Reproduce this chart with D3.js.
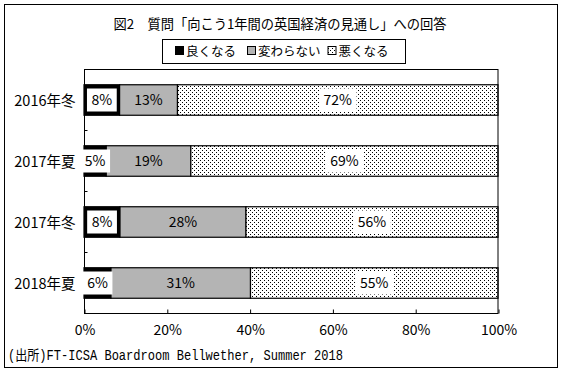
<!DOCTYPE html>
<html><head><meta charset="utf-8">
<script src="https://cdn.jsdelivr.net/npm/d3@7"></script>
<style>
html,body{margin:0;padding:0;background:#fff;}
svg{display:block;}
</style></head>
<body>
<svg id="c" width="563" height="372"></svg>
<script>
const categories = ["2016年冬","2017年夏","2017年冬","2018年夏"];
const good = [8,5,8,6];      // 良くなる
const same = [13,19,28,31];  // 変わらない
const bad  = [72,69,56,55];  // 悪くなる
const seriesNames = ["良くなる","変わらない","悪くなる"];
const xTicks = [0,0.2,0.4,0.6,0.8,1];
const titleText = "図2　質問「向こう1年間の英国経済の見通し」への回答";
const sourceText = "(出所)FT-ICSA Boardroom Bellwether, Summer 2018";

const FONT = "\"Noto Sans CJK JP\",\"Noto Sans\",sans-serif";
const svg = d3.select("#c").style("font-family", FONT);
const defs = svg.append("defs");
const pat = defs.append("pattern").attr("id","dots").attr("patternUnits","userSpaceOnUse")
  .attr("width",4).attr("height",4);
pat.append("rect").attr("width",4).attr("height",4).attr("fill","#fff");
pat.append("rect").attr("x",0).attr("y",0).attr("width",1).attr("height",1).attr("fill","#000");
pat.append("rect").attr("x",2).attr("y",2).attr("width",1).attr("height",1).attr("fill","#000");

const fills = ["#000","#b4b4b4","url(#dots)"];

// outer frame
svg.append("rect").attr("x",4.5).attr("y",4.5).attr("width",553).attr("height",363)
  .attr("fill","none").attr("stroke","#000").attr("stroke-width",1);

// title
svg.append("text").attr("x",280).attr("y",28.5).attr("text-anchor","middle")
  .attr("font-size",13.5).attr("textLength",333).attr("lengthAdjust","spacingAndGlyphs").text(titleText);

// legend
const lg = svg.append("g");
lg.append("rect").attr("x",162.5).attr("y",39.5).attr("width",243).attr("height",24)
  .attr("fill","#fff").attr("stroke","#000");
const legX = [175,247,327.5];
seriesNames.forEach((n,i)=>{
  lg.append("rect").attr("x",legX[i]+0.5).attr("y",46.5).attr("width",8).attr("height",8)
    .attr("fill",fills[i]).attr("stroke","#000");
  lg.append("text").attr("x",legX[i]+11).attr("y",56).attr("font-size",12.5).text(n);
});

const L=84, R=498, T=69, B=313;
const x = d3.scaleLinear().domain([0,1]).range([L,R]);
const y = d3.scaleBand().domain(categories).range([T,B]).paddingInner(0.5).paddingOuter(0.25);

const rows = categories.map((c,i)=>({cat:c, good:good[i], same:same[i], bad:bad[i]}));
const keys = ["good","same","bad"];
const stack = d3.stack().keys(keys).offset(d3.stackOffsetExpand)(rows);

// bars
stack.forEach((s,si)=>{
  svg.append("g").selectAll("rect").data(s).join("rect")
    .attr("x",d=>x(d[0])).attr("y",d=>y(d.data.cat)+0.5)
    .attr("width",d=>x(d[1])-x(d[0])).attr("height",y.bandwidth())
    .attr("fill",fills[si]).attr("stroke","#000").attr("stroke-width",1.2);
});

// plot frame
svg.append("rect").attr("x",L+0.5).attr("y",T+0.5).attr("width",R-L-0.5).attr("height",B-T)
  .attr("fill","none").attr("stroke","#000");

// y axis with ticks at category boundaries (inward)
const yAxis = svg.append("g").attr("transform",`translate(${L+0.5},0)`);
const bounds = d3.range(categories.length+1).map(i=>T + i*y.step());
yAxis.selectAll("line").data(bounds).join("line")
  .attr("x1",0).attr("x2",3).attr("y1",d=>Math.round(d)+0.5).attr("y2",d=>Math.round(d)+0.5).attr("stroke","#000");
yAxis.selectAll("text").data(categories).join("text")
  .attr("x",-9).attr("y",d=>y(d)+y.bandwidth()/2+1).attr("dy","0.35em")
  .attr("text-anchor","end").attr("font-size",14.5).text(d=>d);

// x axis
const xAxis = d3.axisBottom(x).tickValues(xTicks).tickFormat(d3.format(".0%")).tickSizeInner(-4).tickSizeOuter(0).tickPadding(12);
const xg = svg.append("g").attr("transform",`translate(0.5,${B+0.5})`).call(xAxis);
xg.select(".domain").remove();
xg.selectAll("line").attr("stroke","#000");
xg.selectAll("text").attr("font-size",14).style("font-family",FONT).attr("fill","#000");

// data labels
const raw = {good, same, bad};
stack.forEach((s,si)=>{
  const key = keys[si];
  s.forEach((d,i)=>{
    const cx = (x(d[0])+x(d[1]))/2;
    const cy = y(d.data.cat)+y.bandwidth()/2+0.5;
    const label = raw[key][i] + "%";
    const t = svg.append("text").attr("x",cx).attr("y",cy).attr("dy","0.36em")
      .attr("text-anchor","middle").attr("font-size",14).text(label);
    if (key !== "same") {
      const bb = t.node().getBBox();
      svg.insert("rect", () => t.node())
        .attr("x",bb.x-4.5).attr("y",cy-11.5).attr("width",bb.width+9).attr("height",23)
        .attr("fill","#fff");
    }
  });
});

// source
svg.append("text").attr("x",8).attr("y",360).attr("font-size",14)
  .style("font-family","\"Liberation Mono\",\"Noto Sans CJK JP\",monospace")
  .attr("textLength",335).attr("lengthAdjust","spacingAndGlyphs").text(sourceText);
</script>
</body></html>
